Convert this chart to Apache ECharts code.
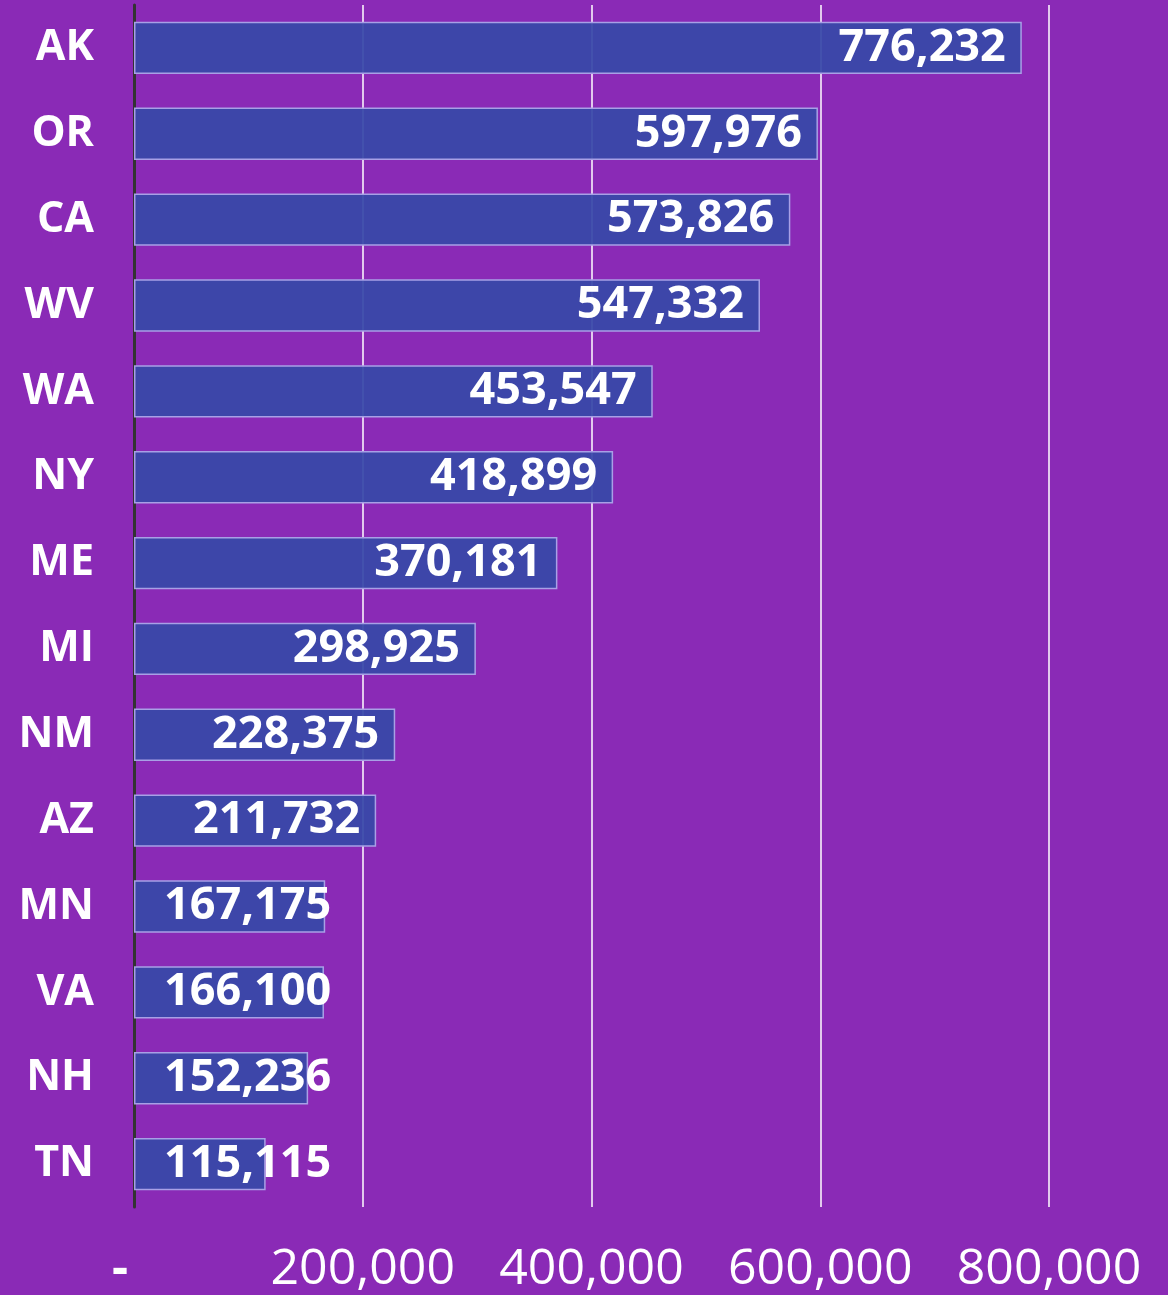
<!DOCTYPE html>
<html>
<head>
<meta charset="utf-8">
<script src="https://cdn.jsdelivr.net/npm/echarts@6/dist/echarts.min.js"></script>
<style>
  html, body { margin: 0; padding: 0; background: #8a2ab6; }
  #chart { width: 1168px; height: 1295px; }
</style>
</head>
<body>
<div id="chart"></div>
<script>
const states = ['AK', 'OR', 'CA', 'WV', 'WA', 'NY', 'ME', 'MI', 'NM', 'AZ', 'MN', 'VA', 'NH', 'TN']
const values = [776232, 597976, 573826, 547332, 453547, 418899, 370181, 298925, 228375, 211732, 167175, 166100, 152236, 115115]
const xTicks = [0, 200000, 400000, 600000, 800000]

const chart = echarts.init(document.getElementById('chart'))

const fmt = v => v.toLocaleString('en-US')

// short bars: label sits from the left, overflowing the bar end
const barData = values.map(v => {
  if (v < 180000) {
    return { value: v, label: { position: 'insideLeft', distance: 30 } }
  }
  return v
})

const option = {
  backgroundColor: '#8a2ab6',
  grid: { left: 134, right: 119, top: 5, bottom: 87 },
  xAxis: {
    type: 'value',
    min: xTicks[0],
    max: xTicks[xTicks.length - 1],
    interval: 200000,
    axisLine: { show: false },
    axisTick: { show: false },
    splitLine: { show: true, lineStyle: { color: '#ffffff', width: 1.5 } },
    axisLabel: {
      color: '#ffffff',
      fontFamily: 'Open Sans',
      fontSize: 50,
      margin: 38,
      formatter: v => v === 0 ? '{d|-}' : fmt(v),
      rich: { d: { color: '#ffffff', fontSize: 50, fontWeight: 'bold', fontFamily: 'Open Sans', padding: [0, 28, 0, 0] } }
    }
  },
  yAxis: {
    type: 'category',
    data: states,
    inverse: true,
    axisLine: { show: true, lineStyle: { color: '#333333', width: 3 } },
    axisTick: { show: false },
    axisLabel: {
      color: '#ffffff',
      fontFamily: 'Open Sans',
      fontWeight: 'bold',
      fontSize: 43,
      margin: 40
    }
  },
  series: [{
    type: 'bar',
    data: barData,
    barCategoryGap: '39%',
    itemStyle: {
      color: 'rgba(55, 72, 168, 0.93)',
      borderColor: '#a8a0e6',
      borderWidth: 1.5
    },
    label: {
      show: true,
      position: 'insideRight',
      distance: 16,
      color: '#ffffff',
      fontFamily: 'Open Sans',
      fontWeight: 'bold',
      fontSize: 45,
      formatter: p => fmt(p.value)
    }
  }]
}

chart.setOption(option)
</script>
</body>
</html>
